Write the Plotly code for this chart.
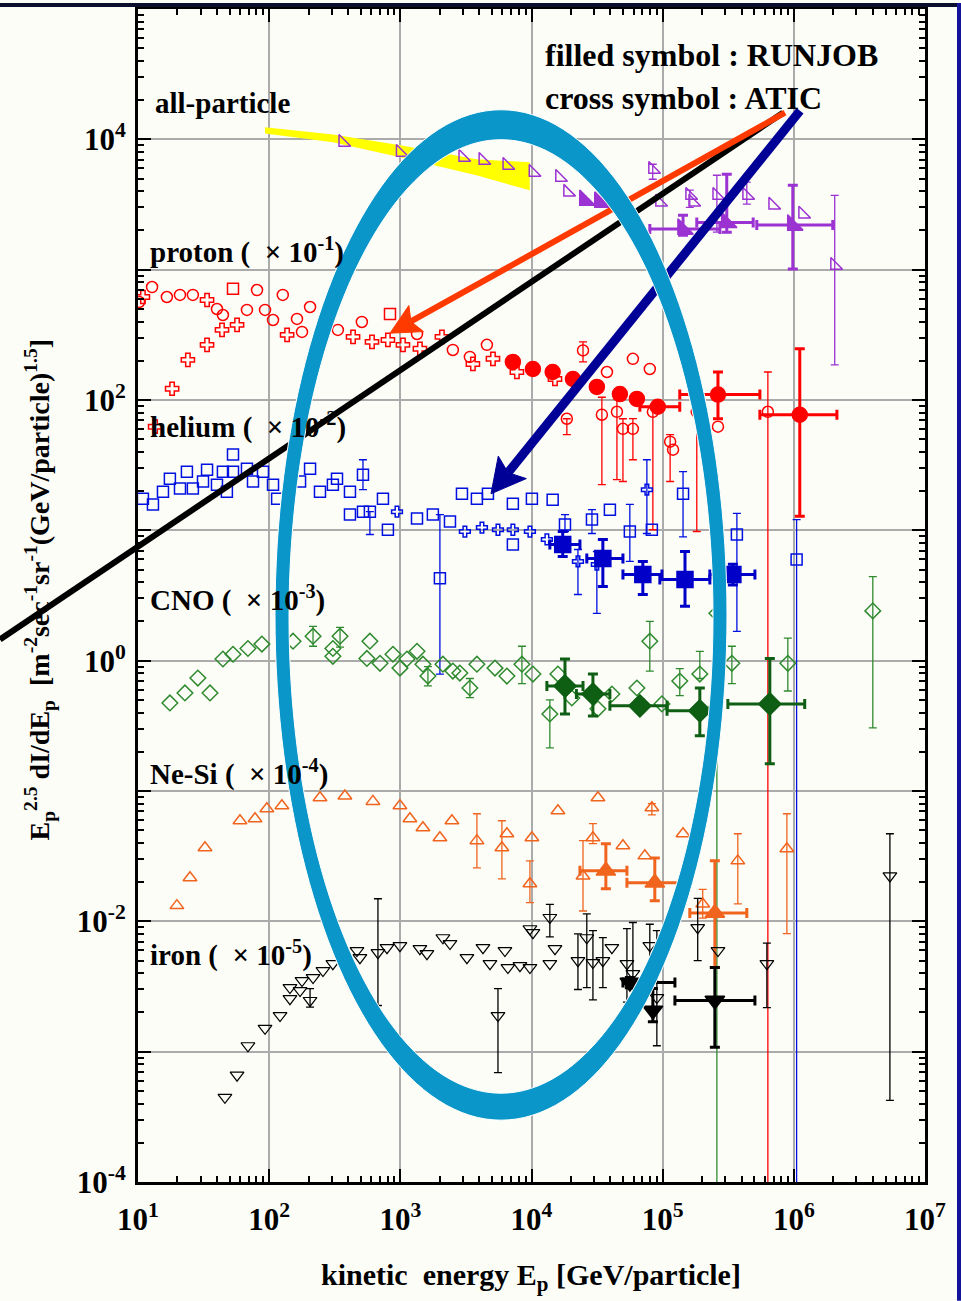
import numpy as np
import plotly.graph_objects as go

# ---------------- data (E in GeV/particle, flux in plotted units) ----------------
# all-particle: yellow band
allp_band_E = [93, 306, 1000, 3800, 9700]
allp_band_hi = [12400, 10900, 8990, 7030, 6660]
allp_band_lo = [11100, 9490, 7280, 5300, 4070]

# all-particle ATIC-type open symbols
allp_open_E = [365, 1000, 3000, 4270, 6500, 10300, 16400, 18900, 95000, 170000, 692000, 1170000]
allp_open_F = [9490, 7950, 7280, 6900, 6320, 5580, 5110, 3930, 3300, 3300, 3130, 2670]
allp_open_err_E = [84000, 161000, 259000, 438000, 2050000]
allp_open_err_F = [5890, 3720, 3720, 3720, 1080]
allp_open_err_hi = [6440, 4070, 5300, 4690, 3720]
allp_open_err_lo = [4940, 3010, 1940, 3180, 186]

# all-particle RUNJOB (filled)
allp_rj_E = [25500, 33200, 143000, 308000, 982000]
allp_rj_F = [3410, 3300, 2050, 2300, 2200]
allp_rj_Elo = [25500, 33200, 79800, 182000, 522000]
allp_rj_Ehi = [25500, 33200, 273000, 490000, 1980000]
allp_rj_hi = [3410, 3300, 2620, 5400, 4440]
allp_rj_lo = [3410, 3300, 1840, 1940, 1010]

# proton (x 10^-1)
p_circ_E = [10.2, 12.8, 16.6, 20.9, 26.2, 40, 44.4, 67.7, 80.8, 93, 107, 127, 163, 178, 205,
            334, 509, 1340, 2515, 3391, 4571, 37600, 59300, 79800, 120000, 264000]
p_circ_F = [565, 736, 617, 640, 640, 499, 449, 491, 698, 491, 411, 640, 419, 333, 517,
            345, 397, 321, 242, 214, 265, 164, 207, 173, 41.6, 62.4]
p_circ_err_E = [24700, 18600, 114000, 34400, 44800, 49800, 59300, 84200, 182000, 634000]
p_circ_err_F = [240, 71.8, 47.9, 77.1, 81.2, 60.1, 60.1, 81.2, 81, 81.2]
p_circ_err_hi = [279, 71.8, 54.2, 105, 102, 71.8, 72, 90, 95, 164]
p_circ_err_lo = [196, 54.2, 23.7, 22.4, 24.5, 23.7, 34.8, 10.1, 9.8, 1e-5]
p_cross_E = [10.9, 33.6, 43.7, 56.9, 18.2, 24, 33.6, 13.5, 137, 436, 608, 804, 1047, 1410,
             2075, 3575, 5084, 7738, 15100]
p_cross_F = [617, 585, 345, 377, 122, 203, 265, 62.4, 316, 305, 279, 289, 265, 247,
             305, 189, 207, 164, 145]
p_sq_E = [53, 834]
p_sq_F = [713, 457]
p_rj_E = [7211, 10250, 14500, 20700, 31500, 47200, 63600, 91800, 264000, 1110000]
p_rj_F = [196, 173, 164, 145, 126, 111, 102, 88.7, 110, 77.1]
p_rj_Elo = [7211, 10250, 14500, 20700, 31500, 47200, 63600, 67000, 135000, 551000]
p_rj_Ehi = [7211, 10250, 14500, 20700, 31500, 47200, 63600, 135000, 551000, 2130000]
p_rj_hi = [196, 173, 164, 145, 126, 111, 102, 88.7, 164, 247]
p_rj_lo = [196, 173, 164, 145, 126, 111, 102, 88.7, 71.8, 12.8]

# helium (x 10^-2)
he_sq_E = [10.9, 13, 15.5, 17.5, 20.9, 23.6, 26.2, 31.3, 33.6, 40, 44.4, 53, 53, 47.6, 67.7,
           75.3, 89.7, 107, 115, 172, 205, 244, 306, 329, 413, 413, 519, 737, 804, 1340,
           1770, 2390, 2950, 3835, 4654, 7211, 10070, 14500, 7211, 39600, 82700]
he_sq_F = [17.5, 15.8, 19.8, 24.9, 20.9, 28.2, 20.9, 23.7, 29.2, 22.4, 28.2, 38.1, 28.2, 19.8, 29.7,
           23.7, 28.2, 22.4, 17.5, 23.7, 29.7, 19.8, 22.4, 24.9, 19.8, 13.2, 13.9, 17.5, 10.1, 12.3,
           13.2, 11.7, 19.1, 17.5, 19.1, 16.0, 17.5, 17.2, 7.79, 14.4, 10.1]
he_sq_err_E = [519, 586, 2003, 18000, 28900, 56200, 143000, 368000, 1050000]
he_sq_err_F = [26.7, 13.9, 4.28, 11.1, 12.1, 9.79, 19.1, 9.29, 5.98]
he_sq_err_hi = [34.8, 13.9, 13.2, 13.2, 14.4, 15.8, 28.2, 13.5, 12.1]
he_sq_err_lo = [20.5, 9.29, 0.787, 9.8, 9.46, 5.77, 8.9, 1.68, 1e-5]
he_x_E = [943, 3106, 4189, 5550, 7211, 9727, 13100]
he_x_F = [13.9, 9.79, 10.5, 10.1, 10.1, 9.79, 8.51]
he_x_err_E = [22600, 31500, 75800]
he_x_err_F = [5.77, 5.47, 20.5]
he_x_err_hi = [7.13, 6.88, 34.8]
he_x_err_lo = [3.22, 2.31, 9.46]
he_rj_E = [17300, 35000, 70600, 148000, 343000]
he_rj_F = [7.79, 6.08, 4.59, 4.20, 4.59]
he_rj_Elo = [13800, 26400, 49800, 95200, 229000]
he_rj_Ehi = [23400, 49800, 98700, 229000, 505000]
he_rj_hi = [9.79, 8.51, 5.77, 6.88, 5.5]
he_rj_lo = [6.3, 3.7, 3.22, 2.61, 3.8]

# CNO (x 10^-3)
cno_E = [17.5, 22.8, 28.6, 35.4, 44.4, 53, 68.9, 88, 152, 306, 306, 586, 556, 700, 879, 993,
         1123, 1340, 1487, 2112, 2515, 2843, 3835, 5265, 6494, 10250, 15900, 20300, 32100,
         41000, 63600, 98700]
cno_F = [0.474, 0.565, 0.736, 0.565, 1.03, 1.12, 1.24, 1.34, 1.41, 1.24, 1.08, 1.41, 1.04, 0.955,
         1.12, 0.877, 1.03, 1.18, 0.94, 0.94, 0.832, 0.803, 0.94, 0.877, 0.762, 0.789, 0.789,
         0.517, 0.427, 0.555, 0.617, 0.466]
cno_err_E = [216, 347, 1623, 3391, 8453, 13800, 79800, 135000, 192000, 259000, 337000, 900000, 4000000]
cno_err_F = [1.54, 1.54, 0.762, 0.617, 0.94, 0.39, 1.41, 0.698, 0.789, 2.31, 0.955, 0.955, 2.41]
cno_err_hi = [1.83, 1.8, 0.9, 0.73, 1.29, 0.5, 2.0, 0.87, 1.18, 3.85, 1.29, 1.49, 4.42]
cno_err_lo = [1.29, 1.27, 0.64, 0.52, 0.667, 0.214, 0.832, 0.54, 0.73, 1e-5, 0.667, 0.585, 0.305]
cno_rj_E = [18000, 29400, 67000, 192000, 656000]
cno_rj_F = [0.638, 0.555, 0.45, 0.412, 0.466]
cno_rj_Elo = [13100, 22000, 39600, 108000, 314000]
cno_rj_Ehi = [24700, 39600, 108000, 229000, 1210000]
cno_rj_hi = [1.03, 0.789, 0.5, 0.617, 1.04]
cno_rj_lo = [0.39, 0.376, 0.41, 0.265, 0.162]

# Ne-Si (x 10^-4)
ne_E = [19.8, 24.9, 32.4, 59.9, 78, 96, 125, 244, 378, 618, 993, 1183, 1487, 2003, 2473,
        6494, 10070, 15900, 49800, 73100, 143000, 32100]
ne_F = [0.0132, 0.0216, 0.0367, 0.0591, 0.0612, 0.0731, 0.0771, 0.0887, 0.0916, 0.0832,
        0.0771, 0.0612, 0.0523, 0.0438, 0.0591, 0.047, 0.0438, 0.0705, 0.038, 0.0318, 0.047, 0.0887]
ne_err_E = [3835, 5948, 9727, 29400, 24700, 82700, 202000, 374000, 885000]
ne_err_F = [0.0416, 0.0367, 0.0194, 0.0438, 0.0223, 0.0744, 0.0136, 0.0291, 0.0361]
ne_err_hi = [0.0669, 0.0591, 0.0291, 0.0561, 0.0416, 0.08, 0.0176, 0.047, 0.0669]
ne_err_lo = [0.0257, 0.0212, 0.0139, 0.0394, 0.012, 0.0655, 0.0106, 0.0136, 0.00804]
ne_rj_E = [36900, 87100, 250000]
ne_rj_F = [0.0244, 0.0198, 0.0116]
ne_rj_Elo = [23400, 53400, 161000]
ne_rj_Ehi = [53400, 135000, 438000]
ne_rj_hi = [0.0394, 0.0306, 0.0291]
ne_rj_lo = [0.0178, 0.0144, 0.00442]

# iron (x 10^-5)
fe_E = [46, 56.9, 68.9, 93, 121, 144, 144, 172, 178, 216, 257, 306, 467, 492, 791, 993, 1410,
        1595, 2112, 2390, 3219, 4265, 4822, 6271, 6607, 8163, 9727, 9727, 10250, 15100, 13800,
        41000, 264000]
fe_F = [0.000446, 0.00066, 0.00111, 0.00151, 0.00189, 0.00255, 0.0031, 0.00294, 0.00351, 0.0037,
        0.00419, 0.00473, 0.00596, 0.00526, 0.00628, 0.0065, 0.00617, 0.00565, 0.00748, 0.00675,
        0.00526, 0.00628, 0.00473, 0.00596, 0.00442, 0.00457, 0.00877, 0.00442, 0.00818, 0.00617,
        0.00473, 0.00628, 0.00596]
fe_err_E = [205, 675, 5550, 13800, 22600, 26400, 29400, 35000, 53400, 59300, 79800, 90300,
            185000, 623000, 5400000]
fe_err_F = [0.00247, 0.00575, 0.00189, 0.0107, 0.00499, 0.00748, 0.00482, 0.00499, 0.00473,
            0.00397, 0.0065, 0.0026, 0.00894, 0.00473, 0.0223]
fe_err_hi = [0.00305, 0.0149, 0.00305, 0.0135, 0.008, 0.0114, 0.0085, 0.0075, 0.0088, 0.0098,
             0.0095, 0.0085, 0.015, 0.0068, 0.047]
fe_err_lo = [0.0022, 0.00226, 0.00069, 0.0076, 0.003, 0.0031, 0.0025, 0.0031, 0.0024, 0.002,
             0.0035, 0.00111, 0.005, 0.00218, 0.000423]
fe_rj_E = [56200, 84200, 250000]
fe_rj_F = [0.00339, 0.00207, 0.00247]
fe_rj_Elo = [49800, 84200, 124000]
fe_rj_Ehi = [124000, 84200, 505000]
fe_rj_hi = [0.0037, 0.00305, 0.00442]
fe_rj_lo = [0.0031, 0.0017, 0.00108]

x_tick_vals = [1e1, 1e2, 1e3, 1e4, 1e5, 1e6, 1e7]
x_tick_text = ["10<sup>1</sup>", "10<sup>2</sup>", "10<sup>3</sup>", "10<sup>4</sup>",
               "10<sup>5</sup>", "10<sup>6</sup>", "10<sup>7</sup>"]
y_tick_vals = [1e-4, 1e-3, 1e-2, 1e-1, 1e0, 1e1, 1e2, 1e3, 1e4]
y_tick_text = ["10<sup>-4</sup>", "", "10<sup>-2</sup>", "", "10<sup>0</sup>", "",
               "10<sup>2</sup>", "", "10<sup>4</sup>"]

# ---------------- colours ----------------
PURPLE = "#9B32D2"
RED = "#FF0000"
BLUE = "#0010E0"
BLUE_F = "#0000C8"
GREEN = "#2F8A2F"
GREEN_F = "#0E5E14"
ORANGE = "#F0641E"
BLACK = "#000000"
BG = "#FDFDF8"

# ---------------- pixel geometry of the plot area ----------------
L, R, T, B = 138, 36, 6, 119
W, H = 961, 1301
PW, PH = W - L - R, H - T - B


def pp(px, py):
    return (px - L) / PW, (H - B - py) / PH


def pts(x, y, color, symbol, size, lw=1.5, yhi=None, ylo=None, xlo=None, xhi=None,
        ethick=1.3, ewidth=4):
    tr = dict(x=x, y=y, mode="markers", hoverinfo="skip", showlegend=False,
              marker=dict(symbol=symbol, size=size, color=color,
                          line=dict(color=color, width=lw)))
    if yhi is not None:
        tr["error_y"] = dict(type="data", symmetric=False,
                             array=[h - v for v, h in zip(y, yhi)],
                             arrayminus=[v - l for v, l in zip(y, ylo)],
                             color=color, thickness=ethick, width=ewidth)
    if xhi is not None:
        tr["error_x"] = dict(type="data", symmetric=False,
                             array=[h - v for v, h in zip(x, xhi)],
                             arrayminus=[v - l for v, l in zip(x, xlo)],
                             color=color, thickness=ethick, width=ewidth)
    return go.Scatter(**tr)


fig = go.Figure()

# yellow band
fig.add_trace(go.Scatter(x=allp_band_E + allp_band_E[::-1], y=allp_band_hi + allp_band_lo[::-1],
                         mode="lines", fill="toself", fillcolor="#FFFF00",
                         line=dict(width=0, color="#FFFF00"), hoverinfo="skip", showlegend=False))

OS = 11  # open symbol size
# all-particle
fig.add_trace(pts(allp_open_E, allp_open_F, PURPLE, "triangle-sw-open", 13))
fig.add_trace(pts(allp_open_err_E, allp_open_err_F, PURPLE, "triangle-sw-open", 13,
                  yhi=allp_open_err_hi, ylo=allp_open_err_lo))
fig.add_trace(pts(allp_rj_E, allp_rj_F, PURPLE, "triangle-sw", 17, yhi=allp_rj_hi, ylo=allp_rj_lo,
                  xlo=allp_rj_Elo, xhi=allp_rj_Ehi, ethick=3, ewidth=5))
# proton
fig.add_trace(pts(p_circ_E, p_circ_F, RED, "circle-open", OS))
fig.add_trace(pts(p_circ_err_E, p_circ_err_F, RED, "circle-open", OS, yhi=p_circ_err_hi, ylo=p_circ_err_lo))
fig.add_trace(pts(p_cross_E, p_cross_F, RED, "cross-open", OS))
fig.add_trace(pts(p_sq_E, p_sq_F, RED, "square-open", OS))
fig.add_trace(pts(p_rj_E, p_rj_F, RED, "circle", 15, yhi=p_rj_hi, ylo=p_rj_lo,
                  xlo=p_rj_Elo, xhi=p_rj_Ehi, ethick=3, ewidth=5))
# helium
fig.add_trace(pts(he_sq_E, he_sq_F, BLUE, "square-open", OS))
fig.add_trace(pts(he_sq_err_E, he_sq_err_F, BLUE, "square-open", OS, yhi=he_sq_err_hi, ylo=he_sq_err_lo))
fig.add_trace(pts(he_x_E, he_x_F, BLUE, "cross-open", 9))
fig.add_trace(pts(he_x_err_E, he_x_err_F, BLUE, "cross-open", 9, yhi=he_x_err_hi, ylo=he_x_err_lo))
fig.add_trace(pts(he_rj_E, he_rj_F, BLUE_F, "square", 16, yhi=he_rj_hi, ylo=he_rj_lo,
                  xlo=he_rj_Elo, xhi=he_rj_Ehi, ethick=3, ewidth=5))
# CNO
fig.add_trace(pts(cno_E, cno_F, GREEN, "diamond-open", 12))
fig.add_trace(pts(cno_err_E, cno_err_F, GREEN, "diamond-open", 12, yhi=cno_err_hi, ylo=cno_err_lo))
fig.add_trace(pts(cno_rj_E, cno_rj_F, GREEN_F, "diamond", 17, yhi=cno_rj_hi, ylo=cno_rj_lo,
                  xlo=cno_rj_Elo, xhi=cno_rj_Ehi, ethick=3, ewidth=5))
# Ne-Si
fig.add_trace(pts(ne_E, ne_F, ORANGE, "triangle-up-open", 12))
fig.add_trace(pts(ne_err_E, ne_err_F, ORANGE, "triangle-up-open", 12, yhi=ne_err_hi, ylo=ne_err_lo))
fig.add_trace(pts(ne_rj_E, ne_rj_F, ORANGE, "triangle-up", 17, yhi=ne_rj_hi, ylo=ne_rj_lo,
                  xlo=ne_rj_Elo, xhi=ne_rj_Ehi, ethick=3, ewidth=5))
# iron
fig.add_trace(pts(fe_E, fe_F, BLACK, "triangle-down-open", 12, lw=1.2))
fig.add_trace(pts(fe_err_E, fe_err_F, BLACK, "triangle-down-open", 12, lw=1.2, yhi=fe_err_hi, ylo=fe_err_lo))
fig.add_trace(pts(fe_rj_E, fe_rj_F, BLACK, "triangle-down", 17, yhi=fe_rj_hi, ylo=fe_rj_lo,
                  xlo=fe_rj_Elo, xhi=fe_rj_Ehi, ethick=3, ewidth=5))

# ---------------- overlay shapes ----------------
shapes = []
# thick black line
x0, y0 = pp(0, 638)
x1, y1 = pp(783, 110)
shapes.append(dict(type="line", xref="paper", yref="paper", x0=x0, y0=y0, x1=x1, y1=y1,
                   line=dict(color="black", width=6), layer="above"))


def arrow(tail, tip, color, width, hl, hw):
    tx, ty = tail
    hx, hy = tip
    d = np.array([hx - tx, hy - ty], float)
    u = d / np.linalg.norm(d)
    n = np.array([-u[1], u[0]])
    base = np.array([hx, hy]) - u * hl
    notch = np.array([hx, hy]) - u * hl * 0.8
    c1 = base + n * hw
    c2 = base - n * hw
    bx, by = pp(*notch)
    sx, sy = pp(tx, ty)
    out = [dict(type="line", xref="paper", yref="paper", x0=sx, y0=sy, x1=bx, y1=by,
                line=dict(color=color, width=width), layer="above")]
    ptsl = [pp(hx, hy), pp(*c1), pp(*notch), pp(*c2)]
    path = "M " + " L ".join(f"{a:.5f},{b:.5f}" for a, b in ptsl) + " Z"
    out.append(dict(type="path", xref="paper", yref="paper", path=path, fillcolor=color,
                    line=dict(color=color, width=1), layer="above"))
    return out


shapes += arrow((785, 110), (390, 331), "#FF3A00", 6, 30, 15)
shapes += arrow((800, 108), (491, 492), "#000096", 9, 34, 18)

# teal ellipse ring
t = np.linspace(0, 2 * np.pi, 181)
outer = [pp(501 + 226 * np.cos(a), 613.5 + 506.5 * np.sin(a)) for a in t]
inner = [pp(501 + 212 * np.cos(-a), 615 + 478 * np.sin(-a)) for a in t]
ring = ("M " + " L ".join(f"{a:.5f},{b:.5f}" for a, b in outer) + " Z M "
        + " L ".join(f"{a:.5f},{b:.5f}" for a, b in inner) + " Z")
shapes.append(dict(type="path", xref="paper", yref="paper", path=ring, fillcolor="#0A96C8",
                   fillrule="evenodd", line=dict(color="white", width=1), layer="above"))

# dark frame strips of the original slide
xa, ya = pp(0, 0)
xb, yb = pp(961, 4)
shapes.append(dict(type="rect", xref="paper", yref="paper", x0=xa, y0=yb, x1=xb, y1=ya,
                   fillcolor="#0A0F2E", line=dict(width=0), layer="above"))
xa, ya = pp(957, 0)
xb, yb = pp(961, 1301)
shapes.append(dict(type="rect", xref="paper", yref="paper", x0=xa, y0=yb, x1=xb, y1=ya,
                   fillcolor="#14149A", line=dict(width=0), layer="above"))

# ---------------- text ----------------
FONT = "Liberation Serif"
ann = []


def label(px, py, text, size=29, anchor="left", angle=0):
    x, y = pp(px, py)
    ann.append(dict(x=x, y=y, xref="paper", yref="paper", text=text, showarrow=False,
                    xanchor=anchor, yanchor="middle", textangle=angle,
                    font=dict(family=FONT, size=size, color="black", weight="bold")))


label(153, 100, "all-particle")
label(148, 248, "proton (&nbsp;&nbsp;× 10<sup>-1</sup>)")
label(148, 424, "helium (&nbsp;&nbsp;× 10<sup>-2</sup>)")
label(148, 597, "CNO (&nbsp;&nbsp;× 10<sup>-3</sup>)")
label(148, 771, "Ne-Si (&nbsp;&nbsp;× 10<sup>-4</sup>)")
label(148, 953, "iron (&nbsp;&nbsp;× 10<sup>-5</sup>)")
label(543, 52, "filled symbol : RUNJOB", size=32)
label(543, 95, "cross symbol : ATIC", size=32)
label(531, 1277, "kinetic&nbsp;&nbsp;energy E<sub>p</sub> [GeV/particle]", size=30, anchor="center")
label(40, 588, "E<sub>p</sub><sup>2.5</sup> dI/dE<sub>p</sub>&nbsp;&nbsp;[m<sup>-2</sup>sec<sup>-1</sup>sr<sup>-1</sup>(GeV/particle)<sup>1.5</sup>]",
      size=28, anchor="center", angle=-90)

fig.update_layout(
    width=W, height=H, margin=dict(l=L, r=R, t=T, b=B),
    paper_bgcolor=BG, plot_bgcolor=BG, showlegend=False,
    font=dict(family=FONT, color="black"),
    shapes=shapes, annotations=ann,
)
axis_common = dict(
    type="log", tickmode="array", ticks="inside", ticklen=13, tickwidth=2, tickcolor="black",
    showgrid=True, gridcolor="#ABABAB", gridwidth=1.5, showline=True, linecolor="black",
    linewidth=3, mirror="allticks", zeroline=False,
    tickfont=dict(family=FONT, size=31, color="black", weight="bold"),
    minor=dict(ticks="inside", ticklen=6, tickwidth=2, tickcolor="black", showgrid=False, dtick="D1"),
)
fig.update_xaxes(range=[1, 7], tickvals=x_tick_vals, ticktext=x_tick_text, ticklabelstandoff=8,
                 **axis_common)
fig.update_yaxes(range=[-4, 5], tickvals=y_tick_vals, ticktext=y_tick_text, ticklabelstandoff=3,
                 **axis_common)

fig.write_html("out.html")
